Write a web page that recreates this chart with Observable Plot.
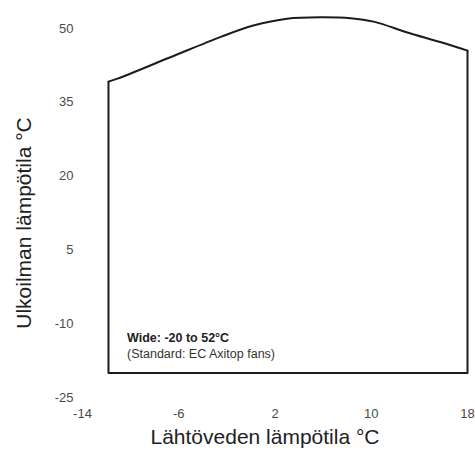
<!DOCTYPE html>
<html>
<head>
<meta charset="utf-8">
<script src="https://cdn.jsdelivr.net/npm/d3@7"></script>
<script src="https://cdn.jsdelivr.net/npm/@observablehq/plot@0.6"></script>
<style>
  html, body { margin: 0; padding: 0; background: #fff; }
  #chart { width: 475px; height: 457px; }
</style>
</head>
<body>
<div id="chart"></div>
<script>
// Operating envelope: top boundary (outdoor max temp vs leaving water temp)
const topX = [-11.84, -11.1, -6.8, -2.5, 0.2, 3.0, 5.8, 8.3, 10.2, 13.0, 15.8, 18.0];
const topY = [39.2, 39.8, 44.05, 48.3, 50.6, 52.0, 52.3, 52.1, 51.4, 49.2, 47.2, 45.5];
// Sides and bottom of the envelope
const frameX = [-11.84, -11.84, 18.0, 18.0];
const frameY = [39.2, -20, -20, 45.5];

const xTicks = [-14, -6, 2, 10, 18];
const yTicks = [-25, -10, 5, 20, 35, 50];

const xLabel = "Lähtöveden lämpötila °C";
const yLabel = "Ulkoilman lämpötila °C";
const noteLines = ["Wide: -20 to 52°C", "(Standard: EC Axitop fans)"];
const noteX = -10.3;
const noteY = [-13.0, -16.1];

const topData = topX.map((x, i) => ({x, y: topY[i]}));
const frameData = frameX.map((x, i) => ({x, y: frameY[i]}));

const chart = Plot.plot({
  width: 475,
  height: 457,
  marginLeft: 82,
  marginRight: 8,
  marginTop: 28,
  marginBottom: 60,
  style: {fontFamily: "'Liberation Sans', Arial, sans-serif", background: "#fff"},
  x: {domain: [-14, 18]},
  y: {domain: [-25, 50]},
  marks: [
    Plot.axisX({ticks: xTicks, tickFormat: d => String(d), tickSize: 0, tickPadding: 11, label: null, fontSize: 13, fill: "#4a4a4a"}),
    Plot.axisY({ticks: yTicks, tickFormat: d => String(d), tickSize: 0, tickPadding: 9, label: null, fontSize: 13, fill: "#4a4a4a"}),
    Plot.line(frameData, {x: "x", y: "y", stroke: "#1c1c1c", strokeWidth: 2}),
    Plot.line(topData, {x: "x", y: "y", stroke: "#1c1c1c", strokeWidth: 2, curve: "catmull-rom"}),
    Plot.text([noteLines[0]], {x: noteX, y: noteY[0], text: d => d, textAnchor: "start", fontSize: 12.5, fontWeight: "bold", fill: "#222"}),
    Plot.text([noteLines[1]], {x: noteX, y: noteY[1], text: d => d, textAnchor: "start", fontSize: 12.5, fill: "#333"}),
    Plot.text([xLabel], {frameAnchor: "bottom", text: d => d, dy: 46, dx: -10, fontSize: 21, fill: "#222"}),
    Plot.text([yLabel], {frameAnchor: "left", textAnchor: "middle", text: d => d, rotate: -90, dx: -58, dy: 10, fontSize: 21, fill: "#222"})
  ]
});
document.getElementById("chart").appendChild(chart);
</script>
</body>
</html>
